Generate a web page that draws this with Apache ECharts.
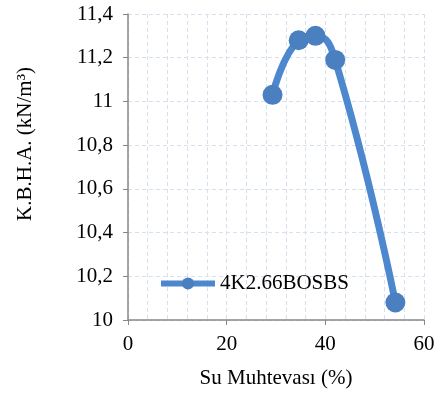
<!DOCTYPE html>
<html><head><meta charset="utf-8">
<script src="https://cdn.jsdelivr.net/npm/echarts@6/dist/echarts.min.js"></script>
<style>html,body{margin:0;padding:0;background:#fff}#c{width:443px;height:396px}</style>
</head><body><div id="c"></div>
<script>
const seriesName = '4K2.66BOSBS';
const xValues = [29.3, 34.6, 38.0, 42.0, 54.2];
const yValues = [11.03, 11.28, 11.30, 11.19, 10.08];
const xTitle = 'Su Muhtevası (%)';
const yTitle = 'K.B.H.A. (kN/m³)';

const font = 'Liberation Serif';
const fs = 21;
const chart = echarts.init(document.getElementById('c'));
const gridLine = {show:true, lineStyle:{color:'#d6e0ef', type:[4,3], width:1}};
chart.setOption({
  animation:false,
  grid:{left:128, right:19, top:14, bottom:76},
  legend:{
    data:[seriesName], left:153, top:268, itemWidth:54, itemHeight:15,
    lineStyle:{width:6, color:'#4d88cf'},
    itemStyle:{color:'#4a7fc0'},
    textStyle:{fontFamily:font, fontSize:fs, color:'#000'}, itemGap:4
  },
  xAxis:{
    type:'value', min:0, max:60, interval:20,
    name:xTitle, nameLocation:'middle', nameGap:48,
    nameTextStyle:{fontFamily:font, fontSize:fs, color:'#000'},
    axisLine:{show:true, onZero:false, lineStyle:{color:'#888', width:1.5}},
    axisTick:{show:true, length:5, lineStyle:{color:'#888'}},
    axisLabel:{fontFamily:font, fontSize:fs, color:'#000', margin:14},
    splitLine:gridLine,
    minorTick:{show:false, splitNumber:5},
    minorSplitLine:{show:true, lineStyle:{color:'#d6e0ef', type:[4,3], width:1}}
  },
  yAxis:{
    type:'value', min:10, max:11.4, interval:0.2,
    name:yTitle, nameLocation:'middle', nameGap:92, nameRotate:90,
    nameTextStyle:{fontFamily:font, fontSize:fs, color:'#000', padding:[0,0,0,46]},
    axisLine:{show:true, lineStyle:{color:'#888', width:1.5}},
    axisTick:{show:true, length:5, lineStyle:{color:'#888'}},
    axisLabel:{fontFamily:font, fontSize:fs, color:'#000', margin:15,
      formatter:v=>String(Math.round(v*10)/10).replace('.',',')},
    splitLine:gridLine
  },
  series:[{
    name:seriesName, type:'line', smooth:0.5,
    data:xValues.map((x,i)=>[x,yValues[i]]),
    symbol:'circle', symbolSize:20,
    lineStyle:{color:'#4d88cf', width:7},
    itemStyle:{color:'#4a7fc0'}
  }]
});
</script></body></html>
